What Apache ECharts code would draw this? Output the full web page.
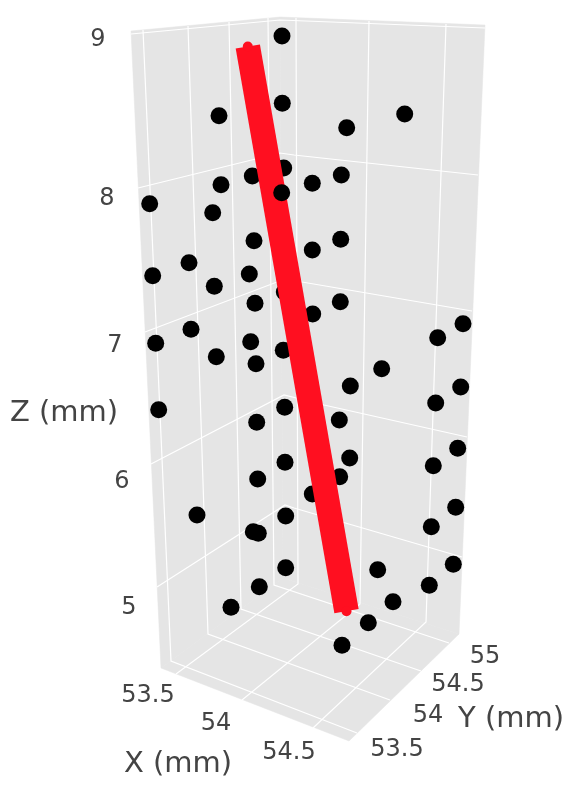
<!DOCTYPE html>
<html>
<head>
<meta charset="utf-8">
<style>html,body{margin:0;padding:0;background:#fff}#main{width:588px;height:800px}</style>
<script src="https://cdn.jsdelivr.net/npm/echarts@6/dist/echarts.min.js"></script>
</head>
<body>
<div id="main"></div>
<script>
var zTicks = ['9', '8', '7', '6', '5']
var xTicks = ['53.5', '54', '54.5']
var yTicks = ['55', '54.5', '54', '53.5']
var axisTitles = ['X (mm)', 'Y (mm)', 'Z (mm)']

// sample points behind the red trace
var pointsU = [282, 282.3, 219, 283.7, 252.3, 221, 149.7, 212.7, 254, 189, 152.7, 249.3, 214.3, 255, 284.3, 191, 155.7, 250.7, 283.3, 216.3, 256, 158.7, 284.7, 256.7, 285, 257.7, 197, 285.7, 253.3, 258.3, 285.7, 259.3, 231, 404.7, 346.7, 341.3, 312.3, 340.7, 312.3, 340.3, 312.7, 463, 437.7, 381.7, 350.3, 460.7, 435.7, 339.3, 457.7, 349.7, 433.3, 339.7, 312.3, 455.7, 431.3, 453.3, 377.7, 429.3, 393, 368.3, 342]
var pointsV = [36, 103.3, 115.7, 168, 176, 184.7, 203.7, 212.7, 240.7, 262.7, 275.7, 274, 286.3, 303.3, 292, 329.3, 343.3, 341.7, 350.3, 356.7, 363.7, 409.7, 407.3, 422.3, 462.3, 479, 515, 516, 531.7, 533.3, 567.7, 586.7, 607.3, 114, 127.7, 175, 183.3, 239.3, 250, 301.7, 314, 323.7, 337.7, 368.7, 386, 387, 403, 420, 448.3, 458, 465.7, 476.7, 494, 507.3, 526.7, 564.3, 569.7, 585.3, 601.7, 622.7, 645.3]
// the one point drawn over the red trace
var frontU = [281.7]
var frontV = [192.7]
// red trace
var traceU = [247.8, 346.5]
var traceV = [46.5, 611.2]

// scene box, corners of the three visible panes
var panes = [
  [[131, 31], [280, 17], [283, 578], [161, 668]],
  [[280, 17], [485, 25], [459, 634], [283, 578]],
  [[161, 668], [349, 741], [459, 634], [283, 578]]
]
// white grid lines of the panes
var gridLines = [
  // z ticks, left wall then right wall
  [[131, 34], [280, 20], [485, 28]],
  [[138, 188], [280, 153], [294, 155], [478, 175]],
  [[145, 332], [277, 282], [302, 282], [472, 311]],
  [[151, 464], [284, 395], [324, 405], [467, 437]],
  [[157, 587], [285, 505], [294, 508], [462, 557]],
  // y ticks on left wall and floor
  [[143, 30], [171, 661], [357, 733]],
  [[188, 26], [208, 634], [390, 700]],
  [[229, 22], [241, 609], [421, 671]],
  [[268, 18], [274, 585], [449, 643]],
  // x ticks on right wall and floor
  [[296, 18], [298, 584], [176, 674]],
  [[369, 21], [360, 604], [242, 700]],
  [[446, 24], [426, 622], [313, 728]]
]
var zTickPos = [[98, 39.5], [107, 198.5], [115, 345.5], [122, 481.5], [129, 607.5]]
var xTickPos = [[148, 695.5], [216, 723.5], [289, 752.5]]
var yTickPos = [[485, 656.5], [458, 684.5], [428, 715.5], [397, 749.5]]
var titlePos = [[178, 764], [511, 719], [64, 413]]

function zipPoints(us, vs) {
  return us.map((u, i) => [u, vs[i]])
}

var tickData = []
zTicks.forEach((t, i) => tickData.push({value: zTickPos[i], name: t}))
xTicks.forEach((t, i) => tickData.push({value: xTickPos[i], name: t}))
yTicks.forEach((t, i) => tickData.push({value: yTickPos[i], name: t}))
var titleData = axisTitles.map((t, i) => ({value: titlePos[i], name: t}))

var labelFont = 'DejaVu Sans, verdana, arial, sans-serif'

var myChart = echarts.init(document.getElementById('main'))
var option = {
  animation: false,
  backgroundColor: '#fff',
  grid: {left: 0, right: 0, top: 0, bottom: 0},
  xAxis: {type: 'value', min: 0, max: 588, show: false},
  yAxis: {type: 'value', min: 0, max: 800, inverse: true, show: false},
  series: [
    {
      type: 'custom',
      z: 1,
      silent: true,
      clip: false,
      data: panes.map((p, i) => [i]),
      renderItem: function (params, api) {
        var pts = panes[api.value(0)].map(p => api.coord(p))
        return {type: 'polygon', shape: {points: pts}, style: {fill: '#e5e5e5', stroke: '#e5e5e5', lineWidth: 0.5}}
      }
    },
    {
      type: 'custom',
      z: 2,
      silent: true,
      clip: false,
      data: gridLines.map((p, i) => [i]),
      renderItem: function (params, api) {
        var pts = gridLines[api.value(0)].map(p => api.coord(p))
        return {type: 'polyline', shape: {points: pts}, style: {fill: null, stroke: '#fff', lineWidth: 1.2}}
      }
    },
    {
      name: 'points',
      type: 'scatter',
      z: 3,
      symbolSize: 17,
      itemStyle: {color: '#000', opacity: 1},
      data: zipPoints(pointsU, pointsV)
    },
    {
      name: 'trace',
      type: 'line',
      z: 4,
      symbol: 'circle',
      symbolSize: 10,
      showSymbol: true,
      lineStyle: {color: '#ff0f20', width: 24.6, cap: 'butt'},
      itemStyle: {color: '#ff0f20'},
      data: zipPoints(traceU, traceV)
    },
    {
      name: 'points front',
      type: 'scatter',
      z: 5,
      symbolSize: 17,
      itemStyle: {color: '#000', opacity: 1},
      data: zipPoints(frontU, frontV)
    },
    {
      name: 'ticks',
      type: 'scatter',
      z: 6,
      symbolSize: 0,
      silent: true,
      itemStyle: {opacity: 1},
      label: {show: true, position: 'inside', formatter: p => p.name, color: '#444', opacity: 1, fontFamily: labelFont, fontSize: 24},
      data: tickData
    },
    {
      name: 'titles',
      type: 'scatter',
      z: 6,
      symbolSize: 0,
      silent: true,
      itemStyle: {opacity: 1},
      label: {show: true, position: 'inside', formatter: p => p.name, color: '#444', opacity: 1, fontFamily: labelFont, fontSize: 29},
      data: titleData
    }
  ]
}
myChart.setOption(option)
</script>
</body>
</html>
